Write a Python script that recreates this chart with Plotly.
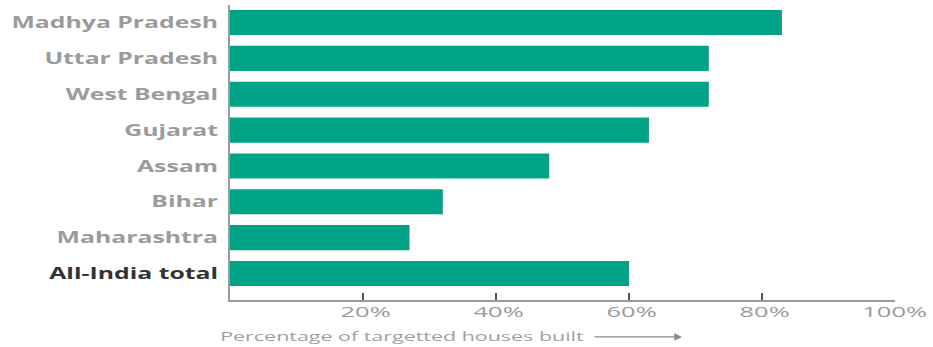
import plotly.graph_objects as go

# Share of targeted rural houses completed, by state
states = [
    "Madhya Pradesh",
    "Uttar Pradesh",
    "West Bengal",
    "Gujarat",
    "Assam",
    "Bihar",
    "Maharashtra",
    "All-India total",
]
pct_built = [83, 72, 72, 63, 48, 32, 27, 60]

x_tick_vals = [0, 20, 40, 60, 80, 100]
x_tick_text = ["", "20%", "40%", "60%", "80%", "100%"]

BAR_COLOR = "#00a386"
LABEL_GREY = "#9b9b9b"
LABEL_DARK = "#333333"
AXIS_GREY = "#9a9a9a"

y_tick_text = [
    f"<span style='color:{LABEL_DARK}'>{s}</span>" if s == "All-India total" else s
    for s in states
]

fig = go.Figure(
    go.Bar(
        x=pct_built,
        y=states,
        orientation="h",
        marker=dict(color=BAR_COLOR, line=dict(width=0)),
        width=0.7,
        hoverinfo="skip",
    )
)

fig.update_layout(
    width=933,
    height=347,
    margin=dict(l=230, r=38, t=5, b=47),
    paper_bgcolor="white",
    plot_bgcolor="white",
    showlegend=False,
    font=dict(family="Open Sans", color=LABEL_GREY),
)

fig.update_xaxes(
    range=[0, 100],
    tickmode="array",
    tickvals=x_tick_vals,
    ticktext=x_tick_text,
    ticks="inside",
    ticklen=7,
    tickwidth=1.5,
    tickcolor="#555555",
    showline=True,
    linecolor=AXIS_GREY,
    linewidth=1.5,
    showgrid=False,
    zeroline=False,
    tickfont=dict(family="Open Sans", size=15, color=LABEL_GREY),
    ticklabelshift=13,
    ticklabelstandoff=-3,
    fixedrange=True,
)

fig.update_yaxes(
    type="category",
    range=[7.74, -0.49],
    tickmode="array",
    tickvals=states,
    ticktext=y_tick_text,
    ticks="",
    showline=True,
    linecolor=AXIS_GREY,
    linewidth=1.5,
    showgrid=False,
    zeroline=False,
    tickfont=dict(family="Open Sans", size=16, color=LABEL_GREY, weight=700),
    ticklabelstandoff=7,
    fixedrange=True,
)

# Axis caption with a pointer arrow to its right
fig.add_annotation(
    text="Percentage of targetted houses built",
    xref="paper", yref="paper",
    x=-0.018, y=-0.122,
    xanchor="left", yanchor="middle",
    showarrow=False,
    font=dict(family="Open Sans", size=13, color="#a0a0a0"),
)
fig.add_annotation(
    text="",
    xref="paper", yref="paper",
    x=0.6797, y=-0.125,
    ax=-89, ay=0,
    showarrow=True,
    arrowhead=2,
    arrowsize=1.1,
    arrowwidth=1.4,
    arrowcolor="#8a8a8a",
)

# Widen the label lettering horizontally around each label's anchor
post_js = """
var gd = document.getElementById('{plot_id}');
function widen(sel, sx, mode) {
  gd.querySelectorAll(sel).forEach(function (t) {
    if (t.getAttribute('data-wide')) return;
    var b = t.getBBox();
    if (!b.width) return;
    var ax = mode === 'end' ? b.x + b.width : (mode === 'start' ? b.x : b.x + b.width / 2);
    var tr = t.getAttribute('transform') || '';
    t.setAttribute('transform', tr + ' translate(' + ax + ',0) scale(' + sx + ',1) translate(' + (-ax) + ',0)');
    t.setAttribute('data-wide', '1');
  });
}
function widenAll() {
  widen('.ytick text', 1.55, 'end');
  widen('.xtick text', 1.7, 'end');
  widen('.annotation-text', 1.65, 'start');
}
widenAll();
gd.on('plotly_afterplot', widenAll);
"""

fig.write_html("out.html", post_script=post_js, config={"displayModeBar": False, "responsive": False})
